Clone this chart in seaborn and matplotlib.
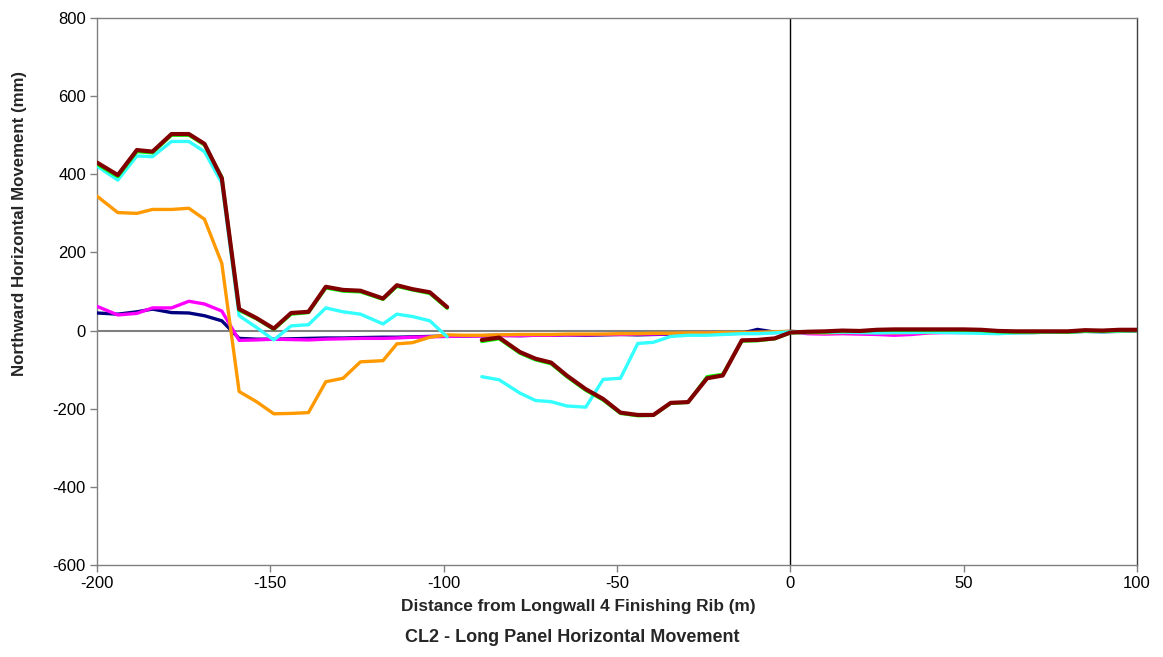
import numpy as np
import pandas as pd
import seaborn as sns
import matplotlib.pyplot as plt

nan = np.nan

# distance from the finishing rib (m)
dist = [-200, -194, -188.5, -184, -178.5, -173.5, -169, -164, -159, -154,
        -149, -144, -139, -134, -129, -124, -117.5, -113.5, -109, -104,
        -99, -94, -89, -84, -78, -73.5, -69, -64.5, -59, -54,
        -49, -44, -39.5, -34.5, -29.5, -24, -19.5, -14, -9.5, -4.5,
        0, 5, 10, 15, 20, 25, 30, 35, 40, 45,
        50, 55, 60, 65, 70, 75, 80, 85, 90, 95, 100]

navy = [45, 42, 48, 55, 46, 45, 38, 25, -20, -22,
        -22, -21, -20, -19, -19, -18, -17, -17, -16, -15,
        -14, -14, -13, -12, -13, -12, -12, -11, -12, -11,
        -10, -11, -10, -9, -9, -9, -8, -7, 3, -4,
        -2, -4, -5, -4, -5, -3, -4, -5, -4, -3,
        -3, -4, -6, -5, -5, -4, -4, -2, -3, -2, -1]

magenta = [62, 40, 44, 58, 58, 75, 68, 50, -25, -24,
           -22, -23, -24, -22, -21, -20, -20, -19, -17, -16,
           -15, -14, -14, -13, -13, -12, -12, -11, -11, -10,
           -10, -9, -9, -8, -8, -7, -7, -6, -6, -5,
           -3, -8, -9, -8, -9, -10, -12, -10, -6, -5,
           -5, -4, -6, -4, -4, -3, -3, 0, -1, 1, 0]

orange = [344, 302, 300, 310, 310, 313, 285, 172, -156, -182,
          -213, -212, -210, -131, -122, -80, -77, -34, -31, -17,
          -11, -12, -12, -11, -10, -10, -10, -9, -9, -9,
          -8, -8, -7, -7, -6, -6, -5, -5, -4, -3,
          -2, -5, -6, -5, -5, -5, -6, -5, -5, -4,
          -4, -5, -5, -4, -4, -4, -3, -2, -2, -1, 0]

cyan = [421, 385, 447, 445, 484, 484, 458, 378, 38, 8,
        -24, 12, 15, 58, 48, 42, 17, 42, 36, 25,
        -16, nan, -118, -126, -160, -179, -182, -193, -196, -125,
        -122, -33, -30, -15, -12, -12, -10, -8, -8, -6,
        -3, -4, -5, -4, -5, -6, -5, -5, -4, -5,
        -6, -7, -8, -6, -5, -4, -4, -2, -3, -1, 0]

green = [426, 394, 458, 455, 500, 500, 475, 393, 52, 30,
         3, 42, 46, 109, 101, 99, 80, 113, 104, 95,
         57, nan, -28, -21, -58, -75, -85, -118, -153, -178,
         -212, -218, -217, -186, -184, -118, -112, -27, -26, -21,
         -6, -5, -4, -1, -2, 1, 1, 1, 1, 1,
         1, 0, -3, -4, -4, -3, -4, -1, -2, 0, 0]

maroon = [430, 398, 462, 458, 503, 503, 478, 390, 55, 32,
          5, 45, 48, 112, 104, 102, 82, 116, 106, 98,
          60, nan, -24, -18, -55, -72, -82, -115, -150, -175,
          -210, -216, -216, -185, -183, -122, -115, -25, -24, -20,
          -5, -3, -2, 0, -1, 2, 3, 3, 3, 3,
          3, 2, -1, -2, -2, -2, -2, 1, 0, 2, 2]

series = {
    "navy": (navy, "#000080"),
    "magenta": (magenta, "#FF00FF"),
    "orange": (orange, "#FF9900"),
    "cyan": (cyan, "#33FFFF"),
    "green": (green, "#00FF00"),
    "maroon": (maroon, "#800000"),
}

sns.set_style("white")
plt.rcParams["font.family"] = ["Liberation Sans", "DejaVu Sans"]
plt.rcParams["axes.unicode_minus"] = False

fig = plt.figure(figsize=(11.63, 6.57), dpi=100)
ax = fig.add_axes([97 / 1163, 1 - 565 / 657, 1040 / 1163, 547 / 657])

ax.axhline(0, color="#808080", lw=1.5, zorder=1)
ax.axvline(0, color="black", lw=1.0, zorder=1)

for name, (vals, col) in series.items():
    df = pd.DataFrame({"x": dist, "y": vals})
    # break the line where a value is missing
    df["seg"] = df["y"].isna().cumsum()
    df = df.dropna()
    lw = 3.0 if name == "maroon" else 2.4
    sns.lineplot(data=df, x="x", y="y", units="seg", estimator=None,
                 sort=False, color=col, linewidth=lw, ax=ax, zorder=3)

ax.set_xlim(-200, 100)
ax.set_ylim(-600, 800)
ax.set_xticks(range(-200, 101, 50))
ax.set_yticks(range(-600, 801, 200))
ax.tick_params(direction="out", length=5, width=1, color="#808080",
               labelsize=12, labelcolor="black", pad=3, bottom=True, left=True)
for s in ax.spines.values():
    s.set_color("#808080")
    s.set_linewidth(1)
ax.spines["right"].set_color("#404040")
ax.set_xlabel("")
ax.set_ylabel("")

fig.text(0.497, 1 - 607 / 657, "Distance from Longwall 4 Finishing Rib (m)",
         ha="center", va="center", fontsize=12.4, fontweight="bold")
fig.text(0.492, 1 - 638 / 657, "CL2 - Long Panel Horizontal Movement",
         ha="center", va="center", fontsize=13, fontweight="bold")
fig.text(20 / 1163, 1 - 224 / 657, "Northward Horizontal Movement (mm)",
         ha="center", va="center", rotation=90, fontsize=12.2, fontweight="bold")

fig.savefig("out.png", dpi=100)
